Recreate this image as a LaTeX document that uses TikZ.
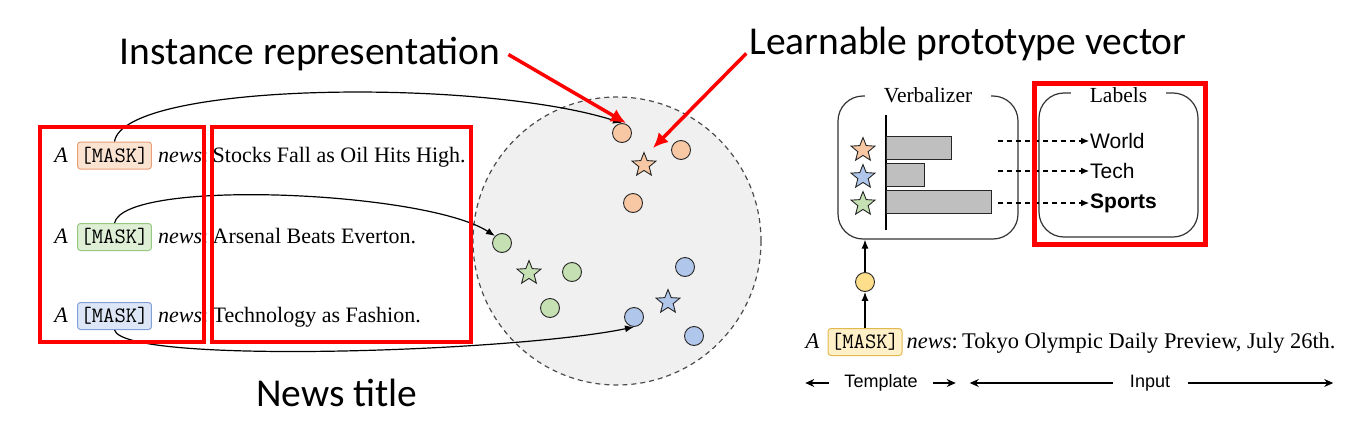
\documentclass[tikz,border=0pt]{standalone}
\usepackage{fontspec}
\setmainfont{Liberation Serif}
\setsansfont{Carlito}
\setmonofont{Latin Modern Mono}
\newfontfamily\helvfont{Liberation Sans}
\usetikzlibrary{shapes.geometric, positioning, arrows.meta}

\definecolor{dotor}{HTML}{F8C8A4}
\definecolor{dotgr}{HTML}{C5E1B4}
\definecolor{dotbl}{HTML}{B0C6EA}
\definecolor{dotye}{HTML}{FDDE8B}
\definecolor{maskorfill}{HTML}{FBE3D2}
\definecolor{maskorline}{HTML}{E8A078}
\definecolor{maskgrfill}{HTML}{DEEFD6}
\definecolor{maskgrline}{HTML}{96C882}
\definecolor{maskblfill}{HTML}{DCE6F6}
\definecolor{maskblline}{HTML}{82A0D7}
\definecolor{maskyefill}{HTML}{FFF0C8}
\definecolor{maskyeline}{HTML}{E1B950}
\definecolor{spacegray}{HTML}{F0F0F0}
\definecolor{bargray}{HTML}{BFBFBF}

\begin{document}
\begin{tikzpicture}[
    x=1pt, y=-1pt,
    every node/.style={inner sep=1pt},
    maskbox/.style 2 args={draw=#1, fill=#2, rounded corners=3pt, inner xsep=3pt,
      inner ysep=3pt, minimum height=27pt, line width=1pt, font=\fontsize{22}{22}\ttfamily},
    rowtext/.style={font=\fontsize{22}{24}\selectfont},
    dot/.style={circle, draw=black!85, fill=#1, minimum size=19pt, inner sep=0pt, line width=0.9pt},
    proto/.style={star, star points=5, star point ratio=2.3, draw=black!85, fill=#1,
      minimum size=25pt, inner sep=0pt, line width=0.9pt},
    link/.style={line width=1.2pt, -{Latex[length=9pt,width=7pt]}},
    redbox/.style={draw=red, line width=4.5pt},
    redarrow/.style={red, line width=3.5pt, -{Latex[length=15pt,width=14pt]}},
    biglabel/.style={font=\fontsize{39.5}{42}\sffamily, anchor=base},
    panel/.style={draw=black!80, line width=1.2pt, rounded corners=25pt},
    paneltitle/.style={fill=white, inner xsep=19pt, inner ysep=2pt, font=\fontsize{21.5}{24}\selectfont},
    bar/.style={draw=black!85, fill=bargray, line width=1pt, anchor=west, minimum height=23pt, inner sep=0pt},
    dasharrow/.style={dashed, dash pattern=on 5pt off 4pt, line width=1.1pt, -{Latex[length=8pt,width=7pt]}},
    labeltext/.style={anchor=west, font=\fontsize{21}{24}\helvfont},
    dimarrow/.style={line width=1.1pt, -{Stealth[length=9pt,width=8pt]}},
    dimtext/.style={font=\fontsize{18}{20}\helvfont}
  ]
  \useasboundingbox (0,0) rectangle (1359,428);

  \node[circle, draw=black!70, dashed, dash pattern=on 5pt off 4pt, line width=1.2pt,
    fill=spacegray, minimum size=288pt] (space) at (617,241) {};

  \node[dot=dotor] (o1) at (622,133) {};
  \node[dot=dotor] (o2) at (681,150) {};
  \node[dot=dotor] (o3) at (633,203) {};
  \node[proto=dotor] (so) at (644,165) {};
  \node[dot=dotgr] (g1) at (502,243) {};
  \node[dot=dotgr] (g2) at (572,272) {};
  \node[dot=dotgr] (g3) at (550,308) {};
  \node[proto=dotgr] (sg) at (529,273) {};
  \node[dot=dotbl] (b1) at (634,317) {};
  \node[dot=dotbl] (b2) at (685,267) {};
  \node[dot=dotbl] (b3) at (694,336) {};
  \node[proto=dotbl] (sb) at (668,302) {};

  \foreach \n/\yy/\col/\txt in {1/155.5/or/{Stocks Fall as Oil Hits High.},
      2/237/gr/{Arsenal Beats Everton.}, 3/316/bl/{Technology as Fashion.}} {
    \node[maskbox={mask\col line}{mask\col fill}] (m\n) at (114.5,\yy) {[MASK]};
    \node[rowtext, anchor=base east] (a\n) at ([xshift=-8pt]m\n.base west) {\textit{A}};
    \node[rowtext, anchor=base west] (n\n) at ([xshift=5pt]m\n.base east) {\textit{news}:};
    \node[rowtext, anchor=base west] (t\n) at ([xshift=2pt]n\n.base east) {\txt};
  }

  \draw[link] (m1.north) .. controls +(10,-60) and +(-140,-45) .. (o1.north);
  \draw[link] (m2.north) .. controls +(10,-45) and +(-70,-45) .. (g1.north west);
  \draw[link] (m3.south) .. controls +(10,35) and +(-120,25) .. (b1.south);

  \draw[redbox] (40,127) rectangle (204,342);
  \draw[redbox] (212,127) rectangle (471,342);

  \node[biglabel] (inst) at (310,65) {Instance representation};
  \node[biglabel] (lpv) at (968,55) {Learnable prototype vector};
  \node[biglabel] (ntitle) at (337,406) {News title};

  \draw[redarrow] ([xshift=7pt]inst.east) -- ([xshift=4pt]o1.north);
  \draw[redarrow] ([shift={(-2,9)}]lpv.west) -- ([shift={(9,-17)}]so.center);

  \node[panel, minimum width=180pt, minimum height=143pt] (verb) at (928,167.5) {};
  \node[paneltitle] (verbt) at (verb.north) {Verbalizer};
  \node[panel, minimum width=159pt, minimum height=144pt] (labs) at (1118.5,165) {};
  \node[paneltitle] (labst) at ([yshift=-3pt]labs.north) {Labels};

  \node[proto=dotor] (vo) at (863,150) {};
  \node[proto=dotbl] (vb) at (863,177) {};
  \node[proto=dotgr] (vg) at (863,204) {};
  \draw[line width=1.2pt] (886,115) -- (886,230);
  \node[bar, minimum width=65pt] (bar1) at (886,147.5) {};
  \node[bar, minimum width=38pt] (bar2) at (886,174.5) {};
  \node[bar, minimum width=105pt] (bar3) at (886,202) {};

  \node[labeltext] (world) at (1089,141) {World};
  \node[labeltext] (tech) at (1089,171) {Tech};
  \node[labeltext] (sports) at (1089,203) {\bfseries Sports};
  \coordinate (d1) at (998,141);
  \coordinate (d2) at (998,171);
  \coordinate (d3) at (998,203);
  \draw[dasharrow] (d1) -- (world.west);
  \draw[dasharrow] (d2) -- (tech.west);
  \draw[dasharrow] (d3) -- (sports.west);

  \draw[redbox] (1034.5,83.5) rectangle (1205.5,244.5);

  \node[maskbox={maskyeline}{maskyefill}] (mq) at (865,342) {[MASK]};
  \node[rowtext, font=\fontsize{22.4}{26}\selectfont, anchor=base east] (aq) at ([xshift=-7pt]mq.base west) {\textit{A}};
  \node[rowtext, font=\fontsize{22.4}{26}\selectfont, anchor=base west] (nq) at ([xshift=3pt]mq.base east) {\textit{news}:};
  \node[rowtext, font=\fontsize{22.4}{26}\selectfont, anchor=base west] (tq) at ([xshift=2pt]nq.base east) {Tokyo Olympic Daily Preview, July 26th.};

  \node[dot=dotye] (yq) at (865,282) {};
  \draw[link] (mq.north) -- (yq.south);
  \draw[link] (yq.north) -- (yq.north |- verb.south);

  \node[dimtext] (tmpl) at (881,383) {Template};
  \node[dimtext] (inp) at (1150,383) {Input};
  \draw[dimarrow] ([xshift=-14pt]tmpl.west) -- ++(-24,0);
  \draw[dimarrow] ([xshift=14pt]tmpl.east) -- ++(23,0);
  \draw[dimarrow] ([xshift=-16pt]inp.west) -- ++(-143,0);
  \draw[dimarrow] ([xshift=17pt]inp.east) -- ++(145,0);
\end{tikzpicture}
\end{document}
